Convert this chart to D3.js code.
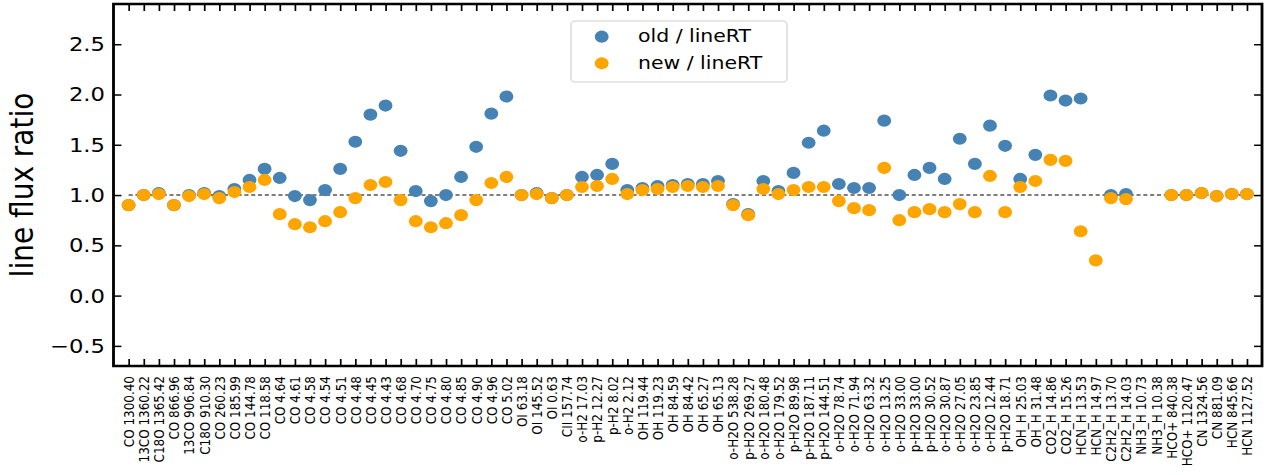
<!DOCTYPE html>
<html>
<head>
<meta charset="utf-8">
<script src="https://cdn.jsdelivr.net/npm/d3@7"></script>
<style>
  html, body { margin: 0; padding: 0; background: #fff; }
  svg { display: block; }
  text { font-family: "DejaVu Sans", sans-serif; fill: #000; }
</style>
</head>
<body>
<div id="chart"></div>
<script>
const labels = [
  "CO 1300.40","13CO 1360.22","C18O 1365.42","CO 866.96","13CO 906.84","C18O 910.30",
  "CO 260.23","CO 185.99","CO 144.78","CO 118.58","CO 4.64","CO 4.61","CO 4.58","CO 4.54",
  "CO 4.51","CO 4.48","CO 4.45","CO 4.43","CO 4.68","CO 4.70","CO 4.75","CO 4.80","CO 4.85",
  "CO 4.90","CO 4.96","CO 5.02","OI 63.18","OI 145.52","OI 0.63","CII 157.74","o-H2 17.03",
  "p-H2 12.27","p-H2 8.02","o-H2 2.12","OH 119.44","OH 119.23","OH 84.59","OH 84.42",
  "OH 65.27","OH 65.13","o-H2O 538.28","p-H2O 269.27","o-H2O 180.48","o-H2O 179.52",
  "p-H2O 89.98","p-H2O 187.11","p-H2O 144.51","o-H2O 78.74","o-H2O 71.94","o-H2O 63.32",
  "o-H2O 13.25","o-H2O 33.00","p-H2O 33.00","p-H2O 30.52","o-H2O 30.87","o-H2O 27.05",
  "o-H2O 23.85","o-H2O 12.44","p-H2O 18.71","OH_H 25.03","OH_H 31.48","CO2_H 14.86",
  "CO2_H 15.26","HCN_H 13.53","HCN_H 14.97","C2H2_H 13.70","C2H2_H 14.03","NH3_H 10.73",
  "NH3_H 10.38","HCO+ 840.38","HCO+ 1120.47","CN 1324.56","CN 881.09","HCN 845.66","HCN 1127.52"
];
const oldVals = [
  0.90,1.00,1.02,0.90,1.00,1.02,0.99,1.06,1.15,1.26,1.17,0.99,0.95,1.05,1.26,1.53,1.80,1.89,
  1.44,1.04,0.94,1.00,1.18,1.48,1.81,1.98,1.00,1.02,0.97,1.00,1.18,1.20,1.31,1.05,1.07,1.09,
  1.10,1.11,1.11,1.14,0.91,0.81,1.14,1.04,1.22,1.52,1.64,1.11,1.07,1.07,1.74,1.00,1.20,1.27,
  1.16,1.56,1.31,1.69,1.49,1.16,1.40,1.99,1.94,1.96,null,1.00,1.01,null,null,1.00,1.00,1.02,
  0.99,1.01,1.01
];
const newVals = [
  0.90,1.00,1.01,0.90,0.99,1.01,0.97,1.03,1.08,1.15,0.81,0.71,0.68,0.74,0.83,0.97,1.10,1.13,
  0.95,0.74,0.68,0.72,0.80,0.95,1.12,1.18,1.00,1.01,0.97,1.00,1.08,1.09,1.16,1.01,1.05,1.06,
  1.08,1.09,1.08,1.09,0.90,0.80,1.06,1.01,1.05,1.08,1.08,0.94,0.87,0.85,1.27,0.75,0.83,0.86,
  0.83,0.91,0.83,1.19,0.83,1.08,1.14,1.35,1.34,0.64,0.35,0.97,0.96,null,null,1.00,1.00,1.02,
  0.99,1.01,1.01
];
const yTicks = [-0.5, 0.0, 0.5, 1.0, 1.5, 2.0, 2.5];
const seriesNames = ["old / lineRT", "new / lineRT"];
const seriesColors = ["#4682b4", "#ffa500"];

const W = 1279, H = 475;
const S = 1.135; // horizontal stretch of the reference rendering
const L = 113.5 / S, R = 1262 / S, T = 4, B = 366;

const svg = d3.select("#chart").append("svg").attr("width", W).attr("height", H);
const g = svg.append("g").attr("transform", `scale(${S},1)`);

const x = d3.scaleLinear().domain([-1, 75]).range([L, R]);
const y = d3.scaleLinear().domain([-0.7, 2.9]).range([B, T]);

// reference line at 1
g.append("line")
  .attr("x1", x(0)).attr("x2", x(74.2))
  .attr("y1", y(1)).attr("y2", y(1))
  .attr("stroke", "#555").attr("stroke-width", 1.5)
  .attr("stroke-dasharray", "3.6,2.4");

// points
const series = [oldVals, newVals];
series.forEach((vals, k) => {
  g.append("g").selectAll("circle")
    .data(vals.map((v, i) => ({ i, v })).filter(d => d.v !== null))
    .join("circle")
    .attr("cx", d => x(d.i)).attr("cy", d => y(d.v))
    .attr("r", 6.1)
    .attr("fill", seriesColors[k]);
});

// axes
const idx = d3.range(labels.length);
const tick = 7;
const bottom = g.append("g").attr("transform", `translate(0,${B})`)
  .call(d3.axisBottom(x).tickValues(idx).tickFormat(i => labels[i]).tickSize(-tick));
bottom.selectAll("text")
  .attr("transform", "rotate(-90)")
  .attr("x", -10).attr("y", 0).attr("dy", "0.35em")
  .attr("text-anchor", "end")
  .style("font-size", "12px");

g.append("g").attr("transform", `translate(0,${T})`)
  .call(d3.axisTop(x).tickValues(idx).tickFormat("").tickSize(-tick));

const left = g.append("g").attr("transform", `translate(${L},0)`)
  .call(d3.axisLeft(y).tickValues(yTicks).tickFormat(d3.format(".1f")).tickSize(-tick).tickPadding(7.5));
left.selectAll("text").style("font-size", "20px");

g.append("g").attr("transform", `translate(${R},0)`)
  .call(d3.axisRight(y).tickValues(yTicks).tickFormat("").tickSize(-tick));

g.selectAll(".domain").remove();
g.selectAll(".tick line").attr("stroke", "#000").attr("stroke-width", 1.5);
g.selectAll(".tick text").attr("fill", "#000").style("font-family", "DejaVu Sans");

// frame
g.append("rect")
  .attr("x", L).attr("y", T).attr("width", R - L).attr("height", B - T)
  .attr("fill", "none").attr("stroke", "#000").attr("stroke-width", 2.5);

// y label
g.append("text")
  .attr("transform", `translate(29,${(T + B) / 2}) rotate(-90)`)
  .attr("text-anchor", "middle")
  .style("font-size", "28px")
  .text("line flux ratio");

// legend
const lg = g.append("g");
lg.append("rect")
  .attr("x", 571 / S).attr("y", 21)
  .attr("width", (787 - 571) / S).attr("height", 61)
  .attr("rx", 3.5)
  .attr("fill", "#fff").attr("fill-opacity", 0.8)
  .attr("stroke", "#d0d0d0").attr("stroke-width", 1);
const legY = [36.7, 63.3];
seriesNames.forEach((name, k) => {
  lg.append("circle").attr("cx", 601.7 / S).attr("cy", legY[k]).attr("r", 6.1).attr("fill", seriesColors[k]);
  lg.append("text").attr("x", 638 / S).attr("y", legY[k] + 5.3)
    .style("font-size", "18px").text(name);
});
</script>
</body>
</html>
